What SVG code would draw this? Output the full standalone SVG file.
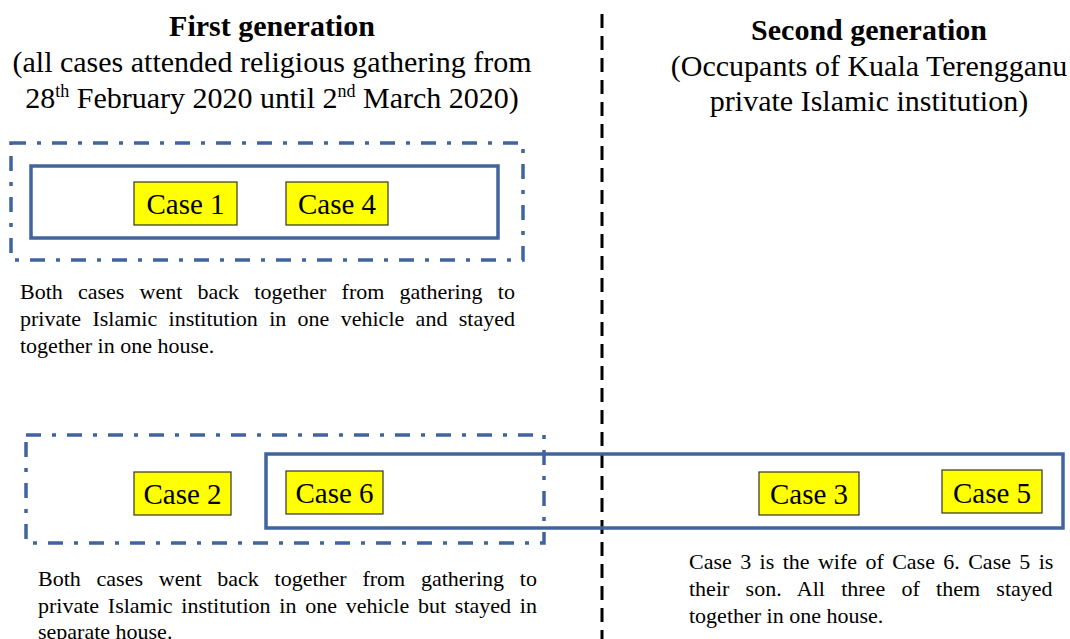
<svg xmlns="http://www.w3.org/2000/svg" width="1070" height="639" viewBox="0 0 1070 639">
<style>
.t{font-family:"Liberation Serif","Times New Roman",serif;fill:#000}
.h{font-size:30px;text-anchor:middle}
.b{font-weight:bold}
.p{font-size:22px}
.c{font-size:29px;text-anchor:middle}
.box{fill:#FFFF00;stroke:#333;stroke-width:1.2}
.solid{fill:none;stroke:#41649E;stroke-width:3.5}
.dd{fill:none;stroke:#41649E;stroke-width:3.5;stroke-dasharray:15 11 4 11}
.div{stroke:#000;stroke-width:3;stroke-dasharray:14 8}
</style>
<rect width="1070" height="639" fill="#fff"/>
<g id="connectors">
<line class="div" x1="602" y1="14" x2="602" y2="639"/>
</g>
<g id="headers">
<text class="t h b" x="272" y="36">First generation</text>
<text class="t h" x="272" y="72">(all cases attended religious gathering from</text>
<text class="t h" x="272" y="108">28<tspan font-size="18" dy="-11">th</tspan><tspan dy="11"> February 2020 until 2</tspan><tspan font-size="18" dy="-11">nd</tspan><tspan dy="11"> March 2020)</tspan></text>
<text class="t h b" x="869" y="40">Second generation</text>
<text class="t h" x="869" y="76">(Occupants of Kuala Terengganu</text>
<text class="t h" x="869" y="111">private Islamic institution)</text>
</g>
<g id="group-top">
<rect class="dd" x="11" y="143" width="512" height="117"/>
<rect class="solid" x="31" y="166" width="467" height="72"/>
</g>
<g id="group-bottom-left">
<rect class="dd" x="26" y="435" width="518" height="108"/>
</g>
<g id="group-bottom-right">
<rect class="solid" x="266" y="454" width="797" height="74"/>
</g>
<g id="case1"><rect class="box" x="134" y="182" width="103" height="43"/><text class="t c" x="185.5" y="214">Case 1</text></g>
<g id="case4"><rect class="box" x="286" y="182" width="102" height="43"/><text class="t c" x="337" y="214">Case 4</text></g>
<g id="case2"><rect class="box" x="134" y="472" width="97" height="43"/><text class="t c" x="182.5" y="504">Case 2</text></g>
<g id="case6"><rect class="box" x="286" y="471" width="97" height="43"/><text class="t c" x="334.5" y="503">Case 6</text></g>
<g id="case3"><rect class="box" x="759" y="472" width="100" height="43"/><text class="t c" x="809" y="503.5">Case 3</text></g>
<g id="case5"><rect class="box" x="942" y="470" width="100" height="43"/><text class="t c" x="992" y="503">Case 5</text></g>
<g id="note1">
<text class="t p" x="20" y="299" word-spacing="9.7">Both cases went back together from gathering to</text>
<text class="t p" x="20" y="326" word-spacing="5.86">private Islamic institution in one vehicle and stayed</text>
<text class="t p" x="20" y="353">together in one house.</text>
</g>
<g id="note2">
<text class="t p" x="38" y="586" word-spacing="10.27">Both cases went back together from gathering to</text>
<text class="t p" x="38" y="613" word-spacing="3.25">private Islamic institution in one vehicle but stayed in</text>
<text class="t p" x="38" y="639">separate house.</text>
</g>
<g id="note3">
<text class="t p" x="689" y="569" word-spacing="2.9">Case 3 is the wife of Case 6. Case 5 is</text>
<text class="t p" x="689" y="596" word-spacing="10.8">their son. All three of them stayed</text>
<text class="t p" x="689" y="623">together in one house.</text>
</g>
</svg>
